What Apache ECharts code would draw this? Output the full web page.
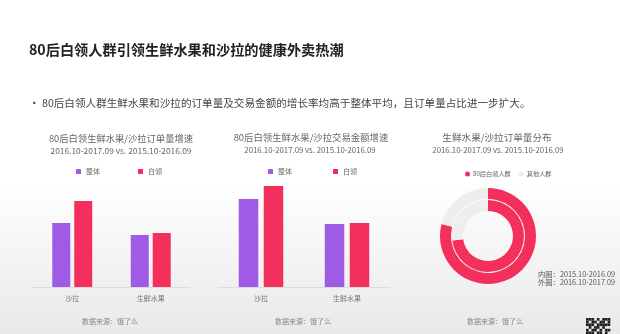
<!DOCTYPE html>
<html>
<head>
<meta charset="utf-8">
<script src="https://cdn.jsdelivr.net/npm/echarts@6/dist/echarts.min.js"></script>
<style>
html,body{margin:0;padding:0;background:#fff;}
#chart{width:620px;height:334px;}
</style>
</head>
<body>
<div id="chart"></div>
<script>
// ---- data ----
const categories = ['沙拉', '生鲜水果'];
const barSeriesNames = ['整体', '白领'];
const orderOverall = [64, 52];
const orderWhiteCollar = [86, 54];
const amountOverall = [88, 63];
const amountWhiteCollar = [101, 64];
const pieNames = ['80后白领人群', '其他人群'];
const innerShare = [73, 27];   // 2015.10-2016.09
const outerShare = [79, 21];   // 2016.10-2017.09

const mainTitle = '80后白领人群引领生鲜水果和沙拉的健康外卖热潮';
const bulletText = '80后白领人群生鲜水果和沙拉的订单量及交易金额的增长率均高于整体平均，且订单量占比进一步扩大。';
const chartTitles = ['80后白领生鲜水果/沙拉订单量增速', '80后白领生鲜水果/沙拉交易金额增速', '生鲜水果/沙拉订单量分布'];
const subTitle = '2016.10-2017.09 vs. 2015.10-2016.09';
const sourceText = '数据来源：饿了么';
const ringNotes = ['内圈：2015.10-2016.09', '外圈：2016.10-2017.09'];

const PURPLE = '#9f5be6';
const RED = '#f3305b';
const GRAY = '#eeeeee';
const FF = "'Noto Sans CJK SC', 'Noto Sans', sans-serif";

function txt(text, x, y, size, color, align, weight) {
  return {
    type: 'text', x: x, y: y, silent: true,
    style: {
      text: text, fill: color, textAlign: align || 'center', textVerticalAlign: 'middle',
      font: (weight || 'normal') + ' ' + size + 'px ' + FF
    }
  };
}

const chart = echarts.init(document.getElementById('chart'), null, {renderer: 'canvas'});

const xAxisCommon = {
  type: 'category', data: categories,
  axisLine: {lineStyle: {color: '#dcdcdc', width: 1}},
  axisTick: {show: false},
  axisLabel: {color: '#777', fontSize: 7, fontFamily: FF, margin: 8}
};
const yAxisCommon = {type: 'value', min: 0, max: 110, show: false, splitLine: {show: false}};

// simple QR-like decoration
const qr = [];
const qrCells = [
  [1,1,1,0,1,0,1,1,1],
  [1,0,1,1,0,1,1,0,1],
  [1,1,1,0,1,1,1,1,1],
  [0,1,0,1,1,0,1,0,0],
  [1,0,1,1,0,1,0,1,1],
  [1,1,1,0,1,1,0,1,0]
];
qrCells.forEach(function(row, r){ row.forEach(function(c, k){ if (c) qr.push({type:'rect', silent:true, shape:{x:586 + k*2.7, y:318 + r*2.7, width:2.7, height:2.7}, style:{fill:'#222'}}); }); });

const option = {
  backgroundColor: {
    type: 'linear', x: 0, y: 0, x2: 0, y2: 1,
    colorStops: [{offset: 0, color: '#ffffff'}, {offset: 0.55, color: '#ffffff'}, {offset: 1, color: '#e9e9e9'}]
  },
  animation: false,
  textStyle: {fontFamily: FF},
  graphic: [
    txt(mainTitle, 29, 50, 14.2, '#222', 'left', 'bold'),
    txt('•', 29, 103, 10.5, '#444', 'left'),
    txt(bulletText, 42, 103, 10.6, '#444', 'left'),
    txt(chartTitles[0], 121, 138, 9.3, '#666'),
    txt(chartTitles[1], 311, 137, 9.4, '#666'),
    txt(chartTitles[2], 497, 137, 9.6, '#666'),
    txt(subTitle, 121, 151, 8.4, '#666'),
    txt(subTitle, 310, 150, 7.8, '#666'),
    txt(subTitle, 498, 150, 7.8, '#666'),
    txt(sourceText, 110, 321, 7, '#888'),
    txt(sourceText, 303, 321, 7, '#888'),
    txt(sourceText, 495, 321, 7, '#888'),
    txt(ringNotes[0], 538, 274, 7.3, '#555', 'left'),
    txt(ringNotes[1], 538, 282, 7.3, '#555', 'left')
  ].concat(qr),
  legend: [
    {data: barSeriesNames, left: 71, top: 163, icon: 'rect', itemWidth: 5, itemHeight: 5, itemGap: 38,
     textStyle: {color: '#666', fontSize: 7, fontFamily: FF}, selectedMode: false},
    {data: barSeriesNames, left: 263, top: 163, icon: 'rect', itemWidth: 5, itemHeight: 5, itemGap: 41,
     textStyle: {color: '#666', fontSize: 7, fontFamily: FF}, selectedMode: false},
    {data: pieNames, left: 460, top: 166, icon: 'circle', itemWidth: 5, itemHeight: 5, itemGap: 8,
     textStyle: {color: '#666', fontSize: 6.2, fontFamily: FF, padding: [0, 0, 0, -2]}, selectedMode: false}
  ],
  grid: [
    {left: 33, width: 157, top: 177, height: 110},
    {left: 218, width: 172, top: 177, height: 110}
  ],
  xAxis: [
    Object.assign({gridIndex: 0}, xAxisCommon),
    Object.assign({gridIndex: 1}, xAxisCommon)
  ],
  yAxis: [
    Object.assign({gridIndex: 0}, yAxisCommon),
    Object.assign({gridIndex: 1}, yAxisCommon)
  ],
  series: [
    {name: barSeriesNames[0], type: 'bar', xAxisIndex: 0, yAxisIndex: 0, data: orderOverall,
     barWidth: 18, barGap: '22%', itemStyle: {color: PURPLE}},
    {name: barSeriesNames[1], type: 'bar', xAxisIndex: 0, yAxisIndex: 0, data: orderWhiteCollar,
     barWidth: 18, barGap: '22%', itemStyle: {color: RED}},
    {name: barSeriesNames[0], type: 'bar', xAxisIndex: 1, yAxisIndex: 1, data: amountOverall,
     barWidth: 19.5, barGap: '28%', itemStyle: {color: PURPLE}},
    {name: barSeriesNames[1], type: 'bar', xAxisIndex: 1, yAxisIndex: 1, data: amountWhiteCollar,
     barWidth: 19.5, barGap: '28%', itemStyle: {color: RED}},
    {name: '内圈', type: 'pie', center: [488, 236], radius: [25, 36], startAngle: 90, clockwise: true,
     label: {show: false}, labelLine: {show: false}, silent: true,
     data: pieNames.map(function(n, i){ return {name: n, value: innerShare[i], itemStyle: {color: i === 0 ? RED : GRAY}}; })},
    {name: '外圈', type: 'pie', center: [488, 236], radius: [37, 48], startAngle: 90, clockwise: true,
     label: {show: false}, labelLine: {show: false}, silent: true,
     data: pieNames.map(function(n, i){ return {name: n, value: outerShare[i], itemStyle: {color: i === 0 ? RED : GRAY}}; })}
  ]
};
chart.setOption(option);
</script>
</body>
</html>
